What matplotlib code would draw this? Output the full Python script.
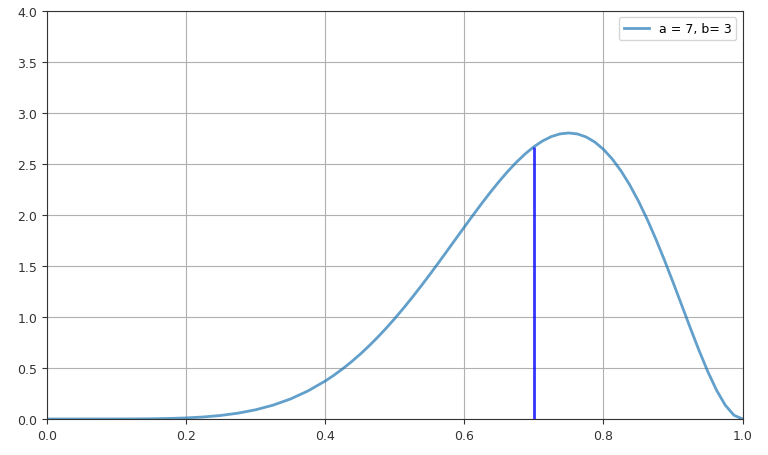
import matplotlib
matplotlib.use("Agg")
from matplotlib import pyplot as plt

# Beta(7, 3) density (denser where the curve bends)
x_vals = [0.0, 0.025, 0.05, 0.075, 0.1, 0.125, 0.15, 0.175, 0.2, 0.225,
          0.25, 0.275, 0.3, 0.325, 0.35, 0.375, 0.4, 0.4125, 0.425, 0.4375,
          0.45, 0.4625, 0.475, 0.4875, 0.5, 0.5125, 0.525, 0.5375, 0.55, 0.5625,
          0.575, 0.5875, 0.6, 0.6125, 0.625, 0.6375, 0.65, 0.6625, 0.675, 0.6875,
          0.7, 0.7125, 0.725, 0.7375, 0.75, 0.7625, 0.775, 0.7875, 0.8, 0.8125,
          0.825, 0.8375, 0.85, 0.8625, 0.875, 0.8875, 0.9, 0.9125, 0.925, 0.9375,
          0.95, 0.9625, 0.975, 0.9875, 1.0]
pdf_vals = [0.0, 0.0, 0.0, 0.00004, 0.0002, 0.0007, 0.0021, 0.0049, 0.0103, 0.0196,
            0.0346, 0.0573, 0.0900, 0.1353, 0.1957, 0.2738, 0.3716, 0.4285, 0.4910, 0.5591,
            0.6330, 0.7126, 0.7978, 0.8885, 0.9844, 1.0852, 1.1905, 1.2998, 1.4125, 1.5279,
            1.6451, 1.7632, 1.8812, 1.9979, 2.1123, 2.2228, 2.3282, 2.4270, 2.5176, 2.5986,
            2.6683, 2.7251, 2.7676, 2.7940, 2.8032, 2.7936, 2.7642, 2.7141, 2.6424, 2.5487,
            2.4333, 2.2962, 2.1384, 1.9614, 1.7671, 1.5585, 1.3392, 1.1138, 0.8879, 0.6683,
            0.4631, 0.2818, 0.1353, 0.0365, 0.0]
label = "a = 7, b= 3"
mark_x = 0.7
mark_y = 2.6683

fig = plt.figure(figsize=(7.68, 4.56), dpi=100)
ax = fig.add_axes([0.061, 0.079, 0.906, 0.895])

ax.plot(x_vals, pdf_vals, color="#1f77b4", lw=2, alpha=0.7, label=label)
ax.vlines(mark_x, 0, mark_y, colors="b", lw=2, alpha=0.8)

ax.set_xlim(0, 1)
ax.set_ylim(0, 4)
ax.set_yticks([0, 0.5, 1, 1.5, 2, 2.5, 3, 3.5, 4])
ax.grid(True, color="#b0b0b0", lw=0.8)
ax.tick_params(labelsize=9, colors="#333333")
for s in ax.spines.values():
    s.set_color("#333333")
ax.legend(loc="upper right", fontsize=9)

fig.savefig("out.png", dpi=100)
